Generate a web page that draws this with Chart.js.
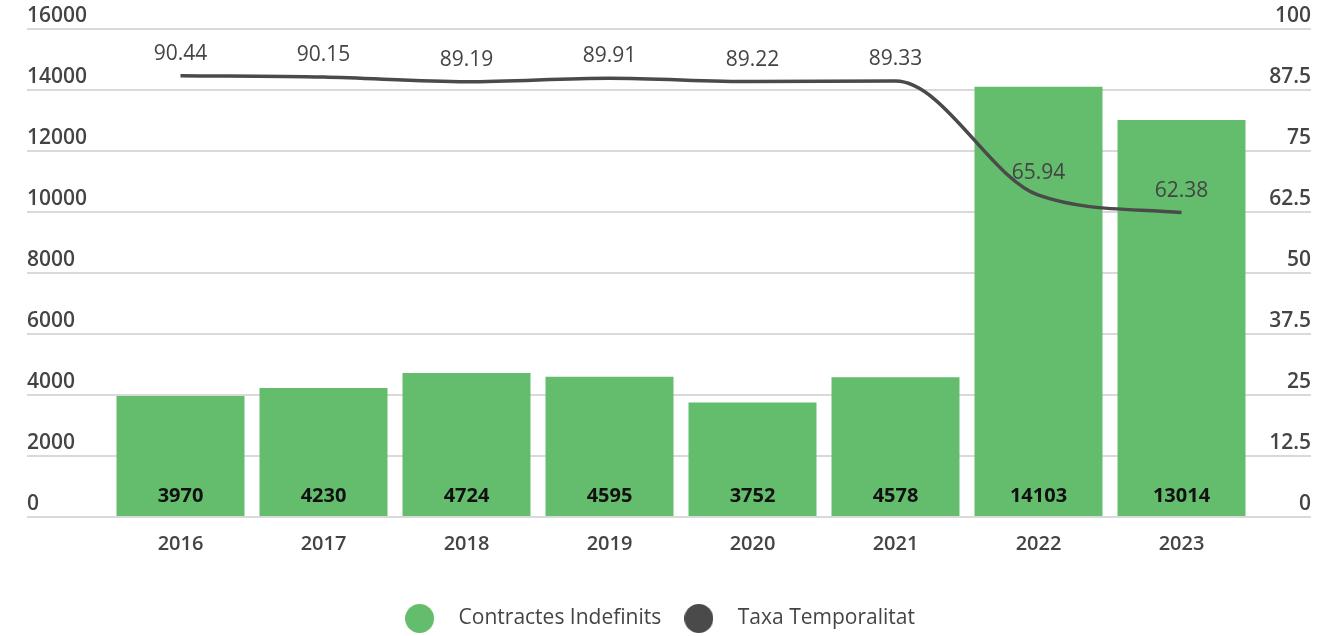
<!DOCTYPE html>
<html>
<head>
<meta charset="utf-8">
<script src="https://cdn.jsdelivr.net/npm/chart.js@4.4.1/dist/chart.umd.min.js"></script>
<style>
  html, body { margin: 0; padding: 0; background: #fff; }
  #wrap { width: 1329px; height: 636px; }
</style>
</head>
<body>
<div id="wrap"><canvas id="barChart"></canvas></div>
<script>
var anys = ['2016', '2017', '2018', '2019', '2020', '2021', '2022', '2023'];
var contractes = [3970, 4230, 4724, 4595, 3752, 4578, 14103, 13014];
var taxa = [90.44, 90.15, 89.19, 89.91, 89.22, 89.33, 65.94, 62.38];

var verd = '#63bd6d';
var gris = '#4a4a4a';
var textGris = '#444444';
var FONT = '"Open Sans", "Noto Sans", sans-serif';

function cercle(color) {
    var c = document.createElement('canvas');
    c.width = 29; c.height = 29;
    var x = c.getContext('2d');
    x.fillStyle = color;
    x.beginPath();
    x.arc(14.5, 14.5, 14.5, 0, Math.PI * 2);
    x.fill();
    return c;
}

// labels de valor sobre barres i linia
var etiquetes = {
    id: 'etiquetes',
    afterLayout: function(chart) {
        // llegenda una mica cap a l'esquerra
        chart.legend.left -= 16;
        chart.legend.right -= 16;
    },
    afterDatasetsDraw: function(chart) {
        var ctx = chart.ctx;
        ctx.save();
        ctx.textAlign = 'center';
        ctx.textBaseline = 'middle';
        var barres = chart.getDatasetMeta(0);
        ctx.font = '700 20px ' + FONT;
        ctx.fillStyle = '#111111';
        barres.data.forEach(function(el, i) {
            ctx.fillText(String(contractes[i]), el.x, chart.chartArea.bottom - 21);
        });
        var linia = chart.getDatasetMeta(1);
        ctx.font = '500 21px ' + FONT;
        ctx.fillStyle = textGris;
        linia.data.forEach(function(el, i) {
            ctx.fillText(taxa[i].toFixed(2), el.x, el.y - 22);
        });
        ctx.restore();
    }
};

var chartDiv = document.getElementById('barChart');
var myChart = new Chart(chartDiv, {
    type: 'bar',
    data: {
        labels: anys,
        datasets: [
            {
                label: 'Contractes Indefinits',
                data: contractes,
                backgroundColor: verd,
                borderWidth: 0,
                barPercentage: 1,
                categoryPercentage: 0.895,
                yAxisID: 'y',
                order: 2,
                pointStyle: cercle(verd)
            },
            {
                label: 'Taxa Temporalitat',
                type: 'line',
                data: taxa,
                borderColor: gris,
                backgroundColor: gris,
                borderWidth: 3.5,
                pointRadius: 0,
                cubicInterpolationMode: 'monotone',
                yAxisID: 'y1',
                order: 1,
                pointStyle: cercle(gris)
            }
        ]
    },
    options: {
        responsive: true,
        maintainAspectRatio: false,
        animation: false,
        layout: { padding: { top: 29, left: 27, right: 18, bottom: -3 } },
        plugins: {
            tooltip: { enabled: false },
            legend: {
                position: 'bottom',
                labels: {
                    usePointStyle: true,
                    pointStyleWidth: 57,
                    padding: 9,
                    color: textGris,
                    font: { family: FONT, size: 21, weight: '400' },
                    sort: function(a, b) { return a.datasetIndex - b.datasetIndex; }
                }
            }
        },
        scales: {
            x: {
                grid: { display: false },
                border: { display: false },
                ticks: {
                    padding: 7,
                    color: textGris,
                    font: { family: FONT, size: 20, weight: '600', lineHeight: 1.2 }
                },
                afterFit: function(s) { s.height = 82; }
            },
            y: {
                position: 'left',
                min: 0,
                max: 16000,
                border: { display: false },
                grid: { color: '#d9d9d9', lineWidth: 2, tickLength: 82 },
                ticks: {
                    stepSize: 2000,
                    crossAlign: 'far',
                    labelOffset: -13,
                    color: textGris,
                    font: { family: FONT, size: 21, weight: '600' },
                    callback: function(v) { return String(v); }
                },
                afterFit: function(s) { s.width = 82; }
            },
            y1: {
                position: 'right',
                min: 0,
                max: 100,
                border: { display: false },
                grid: { color: '#d9d9d9', lineWidth: 2, tickLength: 58, drawOnChartArea: false },
                ticks: {
                    stepSize: 12.5,
                    crossAlign: 'far',
                    labelOffset: -13,
                    color: textGris,
                    font: { family: FONT, size: 21, weight: '600' },
                    callback: function(v) { return String(v); }
                },
                afterFit: function(s) { s.width = 58; }
            }
        }
    },
    plugins: [etiquetes]
});
</script>
</body>
</html>
